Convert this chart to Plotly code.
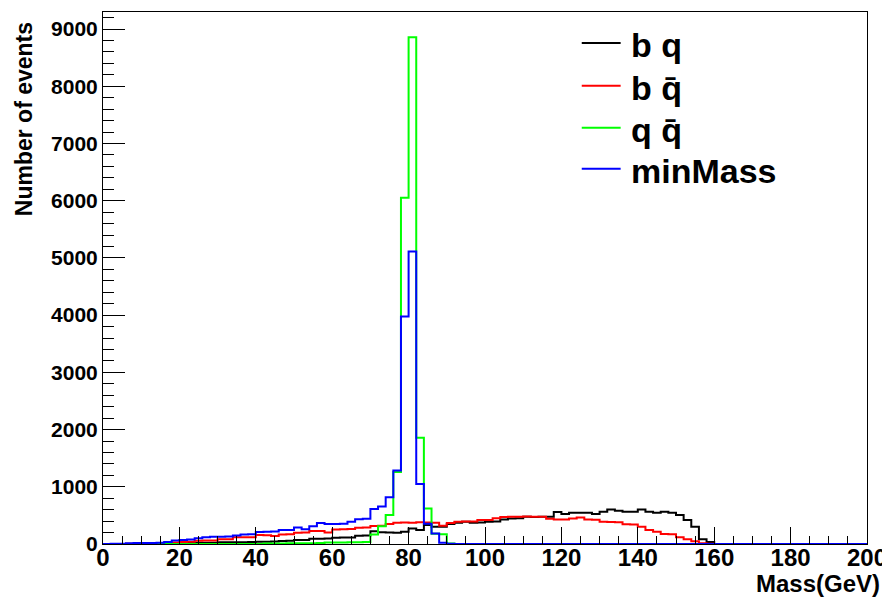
import plotly.graph_objects as go

# bin lower edges: 0, 2, 4, ..., 198 (2 GeV bins)
bin_width = 2
n_bins = 100

mass_bq = [0, 0, 0, 0, 0, 0, 0, 2, 5, 8,
           18, 20, 20, 22, 22, 30, 30, 32, 30, 35,
           40, 40, 42, 52, 55, 70, 72, 90, 92, 95,
           110, 112, 115, 145, 150, 225, 205, 200, 197, 215,
           273, 244, 330, 302, 300, 348, 372, 389, 372, 375,
           389, 392, 430, 447, 450, 476, 470, 478, 476, 560,
           523, 546, 546, 546, 523, 563, 604, 581, 563, 565,
           604, 563, 546, 563, 546, 505, 418, 302, 81, 35,
           0, 0, 0, 0, 0, 0, 0, 0, 0, 0,
           0, 0, 0, 0, 0, 0, 0, 0, 0, 0]

mass_bqbar = [0, 0, 2, 3, 5, 8, 10, 12, 18, 25,
              35, 38, 58, 60, 62, 81, 85, 116, 118, 120,
              157, 155, 139, 168, 170, 197, 200, 226, 228, 200,
              255, 258, 262, 285, 290, 314, 320, 348, 372, 375,
              372, 378, 375, 370, 319, 365, 389, 392, 395, 418,
              420, 450, 470, 476, 478, 480, 476, 478, 440, 430,
              430, 447, 465, 430, 425, 389, 385, 380, 343, 340,
              302, 244, 215, 174, 170, 116, 81, 46, 15, 3,
              0, 0, 0, 0, 0, 0, 0, 0, 0, 0,
              0, 0, 0, 0, 0, 0, 0, 0, 0, 0]

mass_qqbar = [0, 0, 0, 0, 0, 0, 0, 0, 0, 0,
              0, 0, 0, 0, 0, 0, 0, 0, 0, 0,
              0, 8, 10, 10, 12, 12, 15, 15, 18, 25,
              25, 28, 30, 30, 35, 165, 310, 505, 1260, 6050,
              8855, 1859, 622, 180, 170, 8, 2, 0, 0, 0,
              0, 0, 0, 0, 0, 0, 0, 0, 0, 0,
              0, 0, 0, 0, 0, 0, 0, 0, 0, 0,
              0, 0, 0, 0, 0, 0, 0, 0, 0, 0,
              0, 0, 0, 0, 0, 0, 0, 0, 0, 0,
              0, 0, 0, 0, 0, 0, 0, 0, 0, 0]

mass_min = [2, 3, 5, 15, 17, 18, 18, 20, 35, 60,
            72, 80, 100, 118, 125, 128, 130, 150, 168, 172,
            210, 215, 218, 244, 246, 288, 258, 310, 365, 350,
            348, 352, 390, 432, 440, 610, 655, 815, 1285, 3977,
            5110, 1050, 355, 185, 20, 5, 2, 0, 0, 0,
            0, 0, 0, 0, 0, 0, 0, 0, 0, 0,
            0, 0, 0, 0, 0, 0, 0, 0, 0, 0,
            0, 0, 0, 0, 0, 0, 0, 0, 0, 0,
            0, 0, 0, 0, 0, 0, 0, 0, 0, 0,
            0, 0, 0, 0, 0, 0, 0, 0, 0, 0]

series_names = ["b q", "b q\u0304", "q q\u0304", "minMass"]
series_colors = ["#000000", "#ff0000", "#00ff00", "#0000ff"]
series_values = [mass_bq, mass_bqbar, mass_qqbar, mass_min]

x_tick_values = [0, 20, 40, 60, 80, 100, 120, 140, 160, 180, 200]
y_tick_values = [0, 1000, 2000, 3000, 4000, 5000, 6000, 7000, 8000, 9000]

edges = [i * bin_width for i in range(n_bins)]


def step_xy(vals):
    xs = [0] + edges + [n_bins * bin_width]
    ys = [0] + list(vals) + [vals[-1]]
    return xs, ys


fig = go.Figure()
for name, color, vals in zip(series_names, series_colors, series_values):
    xs, ys = step_xy(vals)
    fig.add_trace(go.Scatter(x=xs, y=ys, mode="lines", name=name, showlegend=False,
                             line=dict(color=color, width=2, shape="hv")))

FONT = "Liberation Sans"

# page body has an 8px margin; plot area target: x 103..869, y 11..544 (page px)
OFF = 8
PL, PR, PT, PB = 103, 869, 11, 544
W, H = 890 - OFF, 599 - OFF


def px(xp):
    return (xp - PL) / (PR - PL)


def py(yp):
    return (PB - yp) / (PB - PT)


annotations = [
    dict(text="Mass(GeV)", xref="paper", yref="paper",
         x=px(884), y=py(584), xanchor="right", yanchor="middle",
         showarrow=False, font=dict(family=FONT, size=24, color="black", weight="bold")),
    dict(text="Number of events", xref="paper", yref="paper", textangle=-90,
         x=px(24), y=py(19), xanchor="center", yanchor="top",
         showarrow=False, font=dict(family=FONT, size=23, color="black", weight="bold")),
]
shapes = []
legend_rows = [42, 85, 127, 168]
for name, color, row in zip(series_names, series_colors, legend_rows):
    shapes.append(dict(type="line", xref="paper", yref="paper",
                       x0=px(583), x1=px(622), y0=py(row), y1=py(row),
                       line=dict(color=color, width=2)))
    annotations.append(dict(text=name, xref="paper", yref="paper",
                            x=px(630), y=py(row + 2), xanchor="left", yanchor="middle",
                            showarrow=False,
                            font=dict(family=FONT, size=34, color="black", weight="bold")))

fig.update_layout(
    width=W, height=H,
    margin=dict(l=PL - OFF, r=W - (PR - OFF), t=PT - OFF, b=H - (PB - OFF), pad=0),
    paper_bgcolor="white", plot_bgcolor="white",
    showlegend=False,
    xaxis=dict(range=[0, 200], tickvals=x_tick_values, ticks="inside",
               ticklen=17, tickwidth=1, tickcolor="black",
               minor=dict(dtick=5, ticks="inside", ticklen=8, tickcolor="black", tickwidth=1),
               showgrid=False, zeroline=False, showline=True, linecolor="black",
               linewidth=1, mirror=True,
               tickfont=dict(family=FONT, size=24, color="black", weight="bold"),
               ticklabelstandoff=-8, ticklabeloverflow="allow"),
    yaxis=dict(range=[0, 9298], tickvals=y_tick_values, ticks="inside",
               ticklen=22, tickwidth=1, tickcolor="black",
               minor=dict(dtick=200, ticks="inside", ticklen=11, tickcolor="black", tickwidth=1),
               showgrid=False, zeroline=False, showline=True, linecolor="black",
               linewidth=1, mirror=True,
               tickfont=dict(family=FONT, size=21, color="black", weight="bold"),
               ticklabelstandoff=0),
    annotations=annotations,
    shapes=shapes,
)

fig.write_html("out.html")
